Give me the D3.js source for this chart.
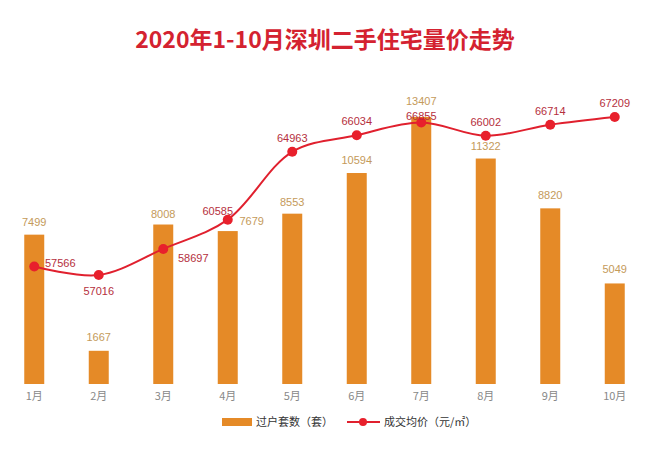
<!DOCTYPE html>
<html><head><meta charset="utf-8">
<script src="https://cdn.jsdelivr.net/npm/d3@7"></script>
<style>body{margin:0;background:#fff;}svg{display:block;font-family:"Noto Sans CJK SC","DejaVu Sans",sans-serif;}</style>
</head><body><svg id="c" width="650" height="455"></svg>
<script>
const months = ["1月","2月","3月","4月","5月","6月","7月","8月","9月","10月"];
const transfers = [7499,1667,8008,7679,8553,10594,13407,11322,8820,5049];
const prices = [57566,57016,58697,60585,64963,66034,66855,66002,66714,67209];
const legendLabels = ["过户套数（套）","成交均价（元/㎡）"];
const title = "2020年1-10月深圳二手住宅量价走势";
// label offsets [dx, dy] relative to mark
const barLabelOff = [[0,-9],[0,-10],[0,-7],[24,-6],[0,-8],[0,-9],[0,-12],[0,-9],[0,-9],[0,-10]];
const priceLabelOff = [[26,-3],[0,16],[30,9],[-10,-9],[0,-14],[0,-14],[0,-6],[0,-14],[0,-14],[0,-14]];

const svg = d3.select("#c");
const x = d3.scaleBand().domain(months).range([2,647]).paddingInner(0.69).paddingOuter(0.345);
const y = d3.scaleLinear().domain([0,13407]).range([384,117]);
const y2 = d3.scaleLinear().domain([57016,67209]).range([275,117]);

svg.append("text").attr("x",325).attr("y",48).attr("text-anchor","middle")
  .attr("fill","#d42230").attr("font-size",23).attr("font-weight","bold").text(title);

svg.selectAll("rect.bar").data(transfers).join("rect").attr("class","bar")
  .attr("x",(d,i)=>x(months[i])).attr("width",x.bandwidth())
  .attr("y",d=>y(d)).attr("height",d=>y(0)-y(d)).attr("fill","#e58a27");

svg.selectAll("text.bl").data(transfers).join("text").attr("class","bl")
  .attr("x",(d,i)=>x(months[i])+x.bandwidth()/2+barLabelOff[i][0])
  .attr("y",(d,i)=>y(d)+barLabelOff[i][1])
  .attr("text-anchor","middle").attr("font-size",11).attr("fill","#c49a5a")
  .attr("font-family","Liberation Sans, Arial, sans-serif").text(d=>d);

const xa = d3.axisBottom(x).tickSize(0).tickPadding(8);
const ga = svg.append("g").attr("transform","translate(0,384)").call(xa);
ga.select(".domain").remove();
ga.selectAll("text").attr("fill","#888").attr("font-size",11).attr("font-family","Noto Sans CJK SC, sans-serif");

const cx = i => x(months[i]) + x.bandwidth()/2;
const line = d3.line().x((d,i)=>cx(i)).y(d=>y2(d)).curve(d3.curveCatmullRom.alpha(0.5));
svg.append("path").datum(prices).attr("d",line).attr("fill","none").attr("stroke","#e0202e").attr("stroke-width",2);
svg.selectAll("circle.pt").data(prices).join("circle").attr("class","pt")
  .attr("cx",(d,i)=>cx(i)).attr("cy",d=>y2(d)).attr("r",5).attr("fill","#e8202c");
svg.selectAll("text.pl").data(prices).join("text").attr("class","pl")
  .attr("x",(d,i)=>cx(i)+priceLabelOff[i][0]).attr("y",(d,i)=>y2(d)+priceLabelOff[i][1]+4)
  .attr("text-anchor","middle").attr("font-size",11).attr("fill","#b52f3d")
  .attr("font-family","Liberation Sans, Arial, sans-serif").text(d=>d);

// legend
const lg = svg.append("g");
lg.append("rect").attr("x",222).attr("y",418).attr("width",30).attr("height",8).attr("fill","#e58a27");
lg.append("text").attr("x",256).attr("y",426).attr("font-size",11).attr("fill","#333").text(legendLabels[0]);
lg.append("line").attr("x1",347).attr("x2",380).attr("y1",422).attr("y2",422).attr("stroke","#e0202e").attr("stroke-width",2);
lg.append("circle").attr("cx",363).attr("cy",422).attr("r",4).attr("fill","#e8202c");
lg.append("text").attr("x",384).attr("y",426).attr("font-size",11).attr("fill","#333").text(legendLabels[1]);
</script></body></html>
